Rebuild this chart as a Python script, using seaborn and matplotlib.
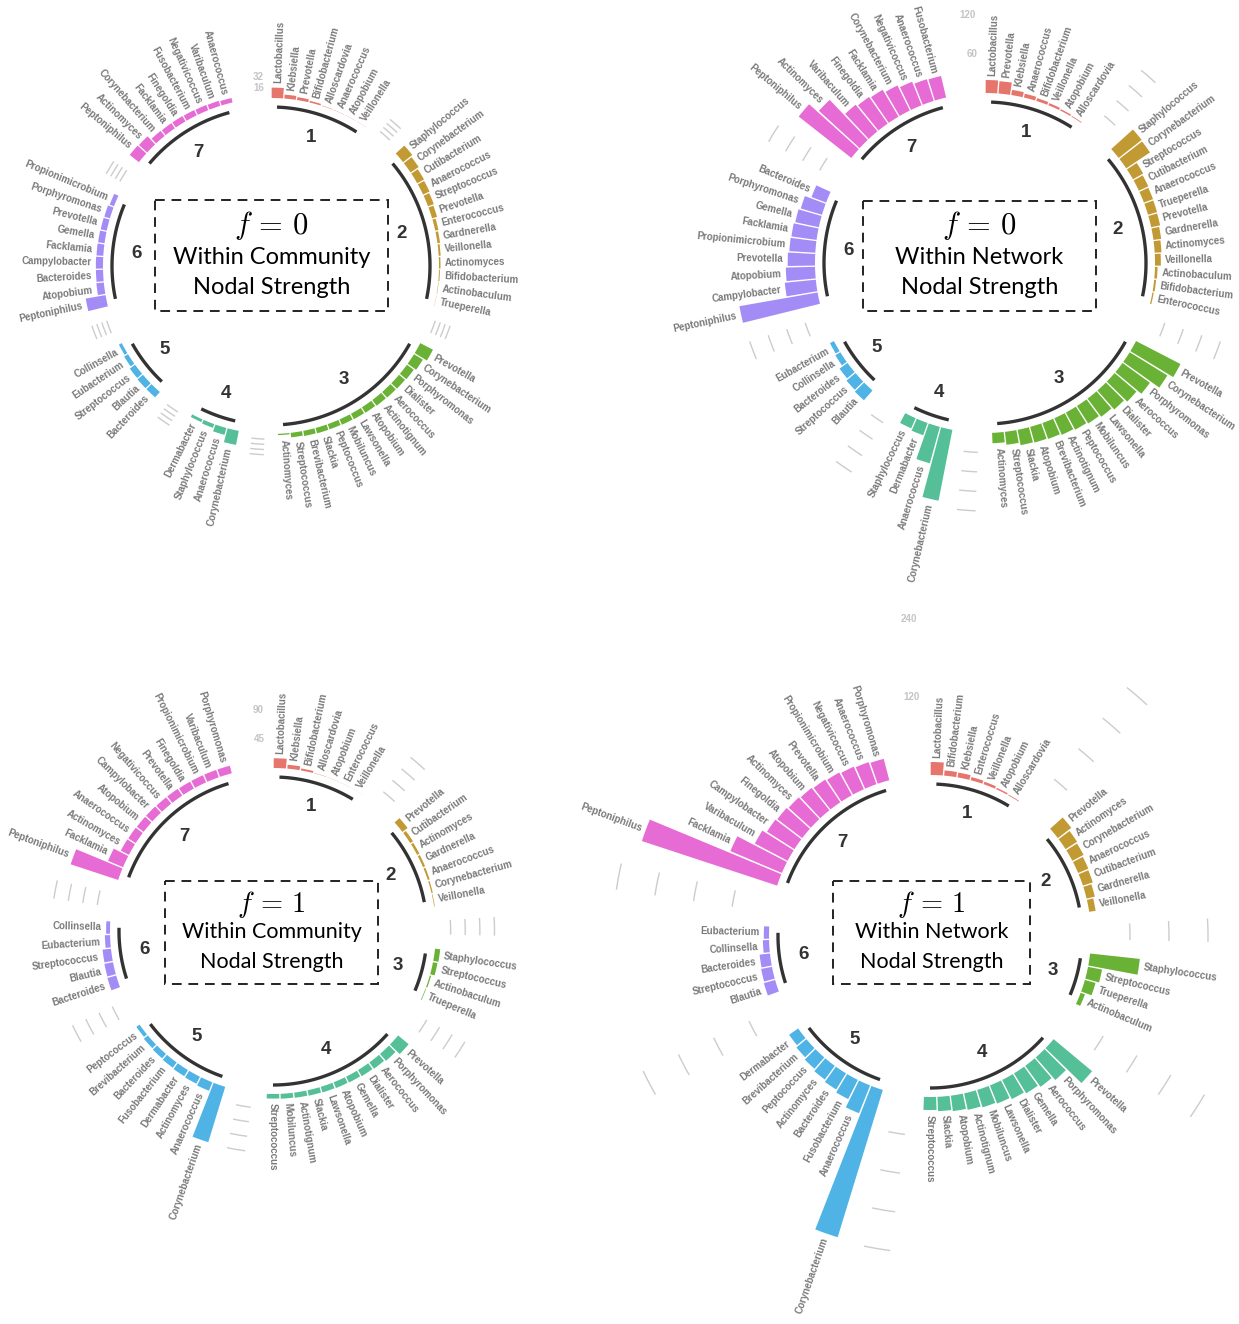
import numpy as np
import matplotlib
matplotlib.use("Agg")
import matplotlib.pyplot as plt
import seaborn as sns
from matplotlib.patches import Rectangle

sns.set_theme(style="white")
plt.rcParams["font.family"] = ["Liberation Sans", "DejaVu Sans"]
plt.rcParams["mathtext.fontset"] = "cm"

W, H = 1239, 1324

group_ids = ["1", "2", "3", "4", "5", "6", "7"]
group_colors = sns.color_palette(["#E6766C", "#C29A33", "#6AB236", "#55BF98",
                                  "#4FB3E6", "#A48CF7", "#E76BD4"])

# ---------------- f = 0, within community ----------------
comm0_taxa = [
    ["Lactobacillus", "Klebsiella", "Prevotella", "Bifidobacterium", "Alloscardovia",
     "Anaerococcus", "Atopobium", "Veillonella"],
    ["Staphylococcus", "Corynebacterium", "Cutibacterium", "Anaerococcus", "Streptococcus",
     "Prevotella", "Enterococcus", "Gardnerella", "Veillonella", "Actinomyces",
     "Bifidobacterium", "Actinobaculum", "Trueperella"],
    ["Prevotella", "Corynebacterium", "Porphyromonas", "Dialister", "Aerococcus",
     "Actinotignum", "Atopobium", "Lawsonella", "Mobiluncus", "Peptococcus", "Slackia",
     "Brevibacterium", "Streptococcus", "Actinomyces"],
    ["Corynebacterium", "Anaerococcus", "Staphylococcus", "Dermabacter"],
    ["Bacteroides", "Blautia", "Streptococcus", "Eubacterium", "Collinsella"],
    ["Peptoniphilus", "Atopobium", "Bacteroides", "Campylobacter", "Facklamia", "Gemella",
     "Prevotella", "Porphyromonas", "Propionimicrobium"],
    ["Peptoniphilus", "Actinomyces", "Corynebacterium", "Facklamia", "Finegoldia",
     "Fusobacterium", "Negativicoccus", "Varibaculum", "Anaerococcus"],
]
comm0_values = [
    [16, 6, 4.5, 2.5, 0.6, 0.4, 0.3, 0.2],
    [18, 15, 12, 11, 9.5, 8, 5, 4, 3, 2.3, 1.5, 0.6, 0.3],
    [22, 16, 13, 12, 11.5, 11, 10, 9.5, 9, 8.5, 8.5, 8, 7, 2],
    [22, 11, 6, 4.5],
    [11, 11, 10, 7, 5],
    [31, 11.5, 11, 11, 10.5, 10, 9.5, 9, 7],
    [18, 17, 10, 9.5, 9.5, 9, 8.5, 8, 7],
]

# ---------------- f = 0, within network ----------------
net0_taxa = [
    ["Lactobacillus", "Prevotella", "Klebsiella", "Anaerococcus", "Bifidobacterium",
     "Veillonella", "Atopobium", "Alloscardovia"],
    ["Staphylococcus", "Corynebacterium", "Streptococcus", "Cutibacterium", "Anaerococcus",
     "Trueperella", "Prevotella", "Gardnerella", "Actinomyces", "Veillonella",
     "Actinobaculum", "Bifidobacterium", "Enterococcus"],
    ["Prevotella", "Corynebacterium", "Porphyromonas", "Aerococcus", "Dialister",
     "Lawsonella", "Mobiluncus", "Peptococcus", "Actinotignum", "Brevibacterium",
     "Atopobium", "Slackia", "Streptococcus", "Actinomyces"],
    ["Corynebacterium", "Anaerococcus", "Dermabacter", "Staphylococcus"],
    ["Blautia", "Streptococcus", "Bacteroides", "Collinsella", "Eubacterium"],
    ["Peptoniphilus", "Campylobacter", "Atopobium", "Prevotella", "Propionimicrobium",
     "Facklamia", "Gemella", "Porphyromonas", "Bacteroides"],
    ["Peptoniphilus", "Actinomyces", "Varibaculum", "Finegoldia", "Facklamia",
     "Corynebacterium", "Negativicoccus", "Anaerococcus", "Fusobacterium"],
]
net0_values = [
    [20, 19, 8, 6, 4.5, 3.5, 2.3, 1.2],
    [45, 44, 18, 16, 15, 14.5, 14, 12, 10.5, 9, 4, 3, 2],
    [77, 68, 52, 44, 39, 35, 32, 30, 28, 26, 25, 24, 20, 16],
    [111, 58, 20, 17],
    [20, 18, 15, 9, 7],
    [122, 48, 45, 42, 40, 39, 37, 34, 24],
    [103, 85, 53, 50, 48, 43, 39, 35, 34],
]

# ---------------- f = 1, within community ----------------
comm1_taxa = [
    ["Lactobacillus", "Klebsiella", "Bifidobacterium", "Alloscardovia", "Atopobium",
     "Enterococcus", "Veillonella"],
    ["Prevotella", "Cutibacterium", "Actinomyces", "Gardnerella", "Anaerococcus",
     "Corynebacterium", "Veillonella"],
    ["Staphylococcus", "Streptococcus", "Actinobaculum", "Trueperella"],
    ["Prevotella", "Porphyromonas", "Aerococcus", "Dialister", "Gemella", "Atopobium",
     "Lawsonella", "Slackia", "Actinotignum", "Mobiluncus", "Streptococcus"],
    ["Corynebacterium", "Anaerococcus", "Actinomyces", "Dermabacter", "Fusobacterium",
     "Bacteroides", "Brevibacterium", "Peptococcus"],
    ["Bacteroides", "Blautia", "Streptococcus", "Eubacterium", "Collinsella"],
    ["Peptoniphilus", "Facklamia", "Actinomyces", "Anaerococcus", "Atopobium",
     "Campylobacter", "Negativicoccus", "Prevotella", "Finegoldia", "Propionimicrobium",
     "Varibaculum", "Porphyromonas"],
]
comm1_values = [
    [15, 6, 3, 0.5, 0.3, 0.2, 0.1],
    [10, 5, 4, 3.5, 3, 2, 1],
    [8, 7, 2, 1],
    [21, 14, 12, 11, 10, 9.5, 9, 8.5, 8, 7.5, 7],
    [89, 14, 12, 11, 10, 9, 8, 6],
    [14, 13.5, 13, 8, 6],
    [77, 25, 14, 13.5, 13, 13, 12.5, 12.5, 12, 12, 12, 12],
]

# ---------------- f = 1, within network ----------------
net1_taxa = [
    ["Lactobacillus", "Bifidobacterium", "Klebsiella", "Enterococcus", "Veillonella",
     "Atopobium", "Alloscardovia"],
    ["Prevotella", "Actinomyces", "Corynebacterium", "Anaerococcus", "Cutibacterium",
     "Gardnerella", "Veillonella"],
    ["Staphylococcus", "Streptococcus", "Trueperella", "Actinobaculum"],
    ["Prevotella", "Porphyromonas", "Aerococcus", "Gemella", "Dialister", "Lawsonella",
     "Mobiluncus", "Actinotignum", "Atopobium", "Slackia", "Streptococcus"],
    ["Corynebacterium", "Anaerococcus", "Fusobacterium", "Bacteroides", "Actinomyces",
     "Peptococcus", "Brevibacterium", "Dermabacter"],
    ["Blautia", "Streptococcus", "Bacteroides", "Collinsella", "Eubacterium"],
    ["Peptoniphilus", "Facklamia", "Varibaculum", "Campylobacter", "Finegoldia",
     "Actinomyces", "Atopobium", "Prevotella", "Propionimicrobium", "Negativicoccus",
     "Anaerococcus", "Porphyromonas"],
]
net1_values = [
    [20, 8, 7.5, 5, 4, 2.3, 1.2],
    [26, 21, 19.5, 17, 16, 13, 10],
    [77, 22, 17, 7],
    [77, 46, 40, 36, 33, 30, 28, 26, 24, 22, 20],
    [237, 46, 33, 29, 26, 23, 20, 17],
    [18, 17, 16, 9.5, 8],
    [219, 86, 57, 50, 48, 46, 44, 42, 40, 38, 36, 34],
]

# reference lines (drawn in the gaps) and the two labelled values
comm0_grid = [8, 16, 24, 32]
net0_grid = [30, 60, 90, 120]
comm1_grid = [22.5, 45, 67.5, 90]
net1_grid = [60, 120, 180, 240]
comm0_grid_labels = [16, 32]
net0_grid_labels = [60, 120]
comm1_grid_labels = [45, 90]
net1_grid_labels = [120, 240]

fig = plt.figure(figsize=(W / 100, H / 100), dpi=100)
fig.patch.set_facecolor("white")

overlay = fig.add_axes([0, 0, 1, 1])
overlay.set_xlim(0, W)
overlay.set_ylim(H, 0)
overlay.set_axis_off()

SCALE = 0.65      # pixels per unit
N_EMPTY = 3
RMAX = 300


def fmt(v):
    return str(int(v)) if float(v).is_integer() else str(v)


def draw_panel(cx, cy, r0, taxa, values, grid, grid_labels):
    rmin = -r0 / SCALE
    rax = (RMAX - rmin) * SCALE
    ax = fig.add_axes([(cx - rax) / W, 1 - (cy + rax) / H, 2 * rax / W, 2 * rax / H],
                      projection="polar")
    ax.set_theta_zero_location("N")
    ax.set_theta_direction(-1)
    ax.set_ylim(rmin, RMAX)
    ax.set_axis_off()

    sizes = [len(g) for g in taxa]
    n_slots = sum(sizes) + N_EMPTY * len(sizes)
    dth = 2 * np.pi / n_slots

    starts = []
    k = 0
    for sz in sizes:
        starts.append(k)
        k += sz + N_EMPTY

    # gap reference lines
    for g in range(len(sizes) - 1):
        last = starts[g] + sizes[g] - 1
        th = np.linspace((last + 2.0) * dth, (last + 3.0) * dth, 20)
        for gv in grid:
            ax.plot(th, np.full_like(th, gv), color="#cccccc", lw=1.0, zorder=1,
                    solid_capstyle="butt")

    # bars
    for g, (names, vals) in enumerate(zip(taxa, values)):
        thetas = (starts[g] + np.arange(len(vals)) + 0.5) * dth
        ax.bar(thetas, vals, width=0.9 * dth, bottom=0, color=group_colors[g],
               linewidth=0, zorder=2, clip_on=False)
        for th, v, name in zip(thetas, vals, names):
            deg = np.degrees(th)
            if deg <= 180:
                rot, ha = 90 - deg, "left"
            else:
                rot, ha = 270 - deg, "right"
            ax.text(th, v + 7, name, rotation=rot, rotation_mode="anchor", ha=ha,
                    va="center", fontsize=7, fontweight="bold", color="#7a7a7a",
                    zorder=3)
        # base arc and group number
        arc = np.linspace(thetas[0], thetas[-1], 60)
        ax.plot(arc, np.full_like(arc, -9 / SCALE), color="#333333", lw=2.4,
                solid_capstyle="butt", zorder=2)
        ax.text(thetas.mean(), -33 / SCALE, group_ids[g], ha="center", va="center",
                fontsize=13.5, fontweight="bold", color="#333333")

    # value labels in the top gap
    th_lab = (n_slots - 0.5) * dth
    for gv in grid_labels:
        ax.text(th_lab, gv, fmt(gv), ha="right", va="center", fontsize=7,
                fontweight="bold", color="#c4c4c4")
    return ax


def draw_title(x0, y0, x1, y1, fval, line1, line2, fsize, ys):
    overlay.add_patch(Rectangle((x0, y0), x1 - x0, y1 - y0, fill=False,
                                edgecolor="#222222", lw=1.4, linestyle=(0, (5, 3.5))))
    xc = (x0 + x1) / 2
    overlay.text(xc, ys[0], r"$f\,=\,%s$" % fval, ha="center", va="center",
                 fontsize=fsize + 5, color="black")
    overlay.text(xc, ys[1], line1, ha="center", va="center", fontsize=fsize,
                 family=["Lato", "DejaVu Sans"], color="black")
    overlay.text(xc, ys[2], line2, ha="center", va="center", fontsize=fsize,
                 family=["Lato", "DejaVu Sans"], color="black")


draw_panel(271, 266, 168, comm0_taxa, comm0_values, comm0_grid, comm0_grid_labels)
draw_panel(985, 263, 170, net0_taxa, net0_values, net0_grid, net0_grid_labels)
draw_panel(273, 931, 163, comm1_taxa, comm1_values, comm1_grid, comm1_grid_labels)
draw_panel(930, 936, 161, net1_taxa, net1_values, net1_grid, net1_grid_labels)

draw_title(155, 200, 388, 311, "0", "Within Community", "Nodal Strength", 17, (226, 257, 288))
draw_title(863, 201, 1096, 311, "0", "Within Network", "Nodal Strength", 17, (226, 257, 288))
draw_title(165, 881, 378, 984, "1", "Within Community", "Nodal Strength", 15.5, (904, 932, 962))
draw_title(833, 881, 1030, 984, "1", "Within Network", "Nodal Strength", 15.5, (904, 932, 962))

fig.savefig("out.png", dpi=100, facecolor="white")
